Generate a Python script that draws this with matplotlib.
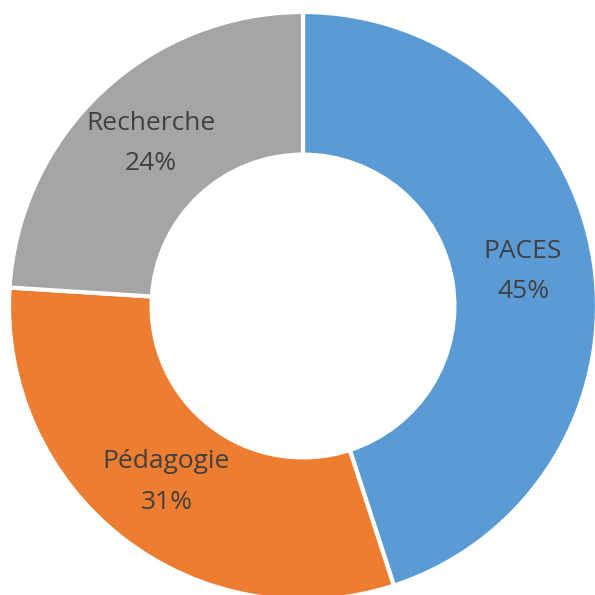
import matplotlib.pyplot as plt
import numpy as np

labels = ['PACES', 'Pédagogie', 'Recherche']
shares = [45, 31, 24]
colors = ['#5B9BD5', '#ED7D31', '#A5A5A5']

SIZE = 595
CX, CY, R = 303, 306, 294   # centre and radius in pixels
HOLE = 0.515

fig = plt.figure(figsize=(5.95, 5.95), dpi=100)
ax = fig.add_axes([0, 0, 1, 1])
ax.axis('off')

wedges, _ = ax.pie(shares, colors=colors, startangle=90, counterclock=False,
                   radius=1.0, wedgeprops=dict(width=1 - HOLE, edgecolor='white', linewidth=3))

# labels at mid radius, middle angle of each slice
mid_r = (1 + HOLE) / 2
for w, name, pct in zip(wedges, labels, shares):
    ang = np.deg2rad((w.theta1 + w.theta2) / 2)
    ax.text(mid_r * np.cos(ang), mid_r * np.sin(ang), f'{name}\n{pct}%',
            ha='center', va='center', fontsize=19, color='#404040',
            family='Open Sans', linespacing=1.8)

ax.set_xlim(-CX / R, (SIZE - CX) / R)
ax.set_ylim(-(SIZE - CY) / R, CY / R)

fig.savefig('out.png', dpi=100)
